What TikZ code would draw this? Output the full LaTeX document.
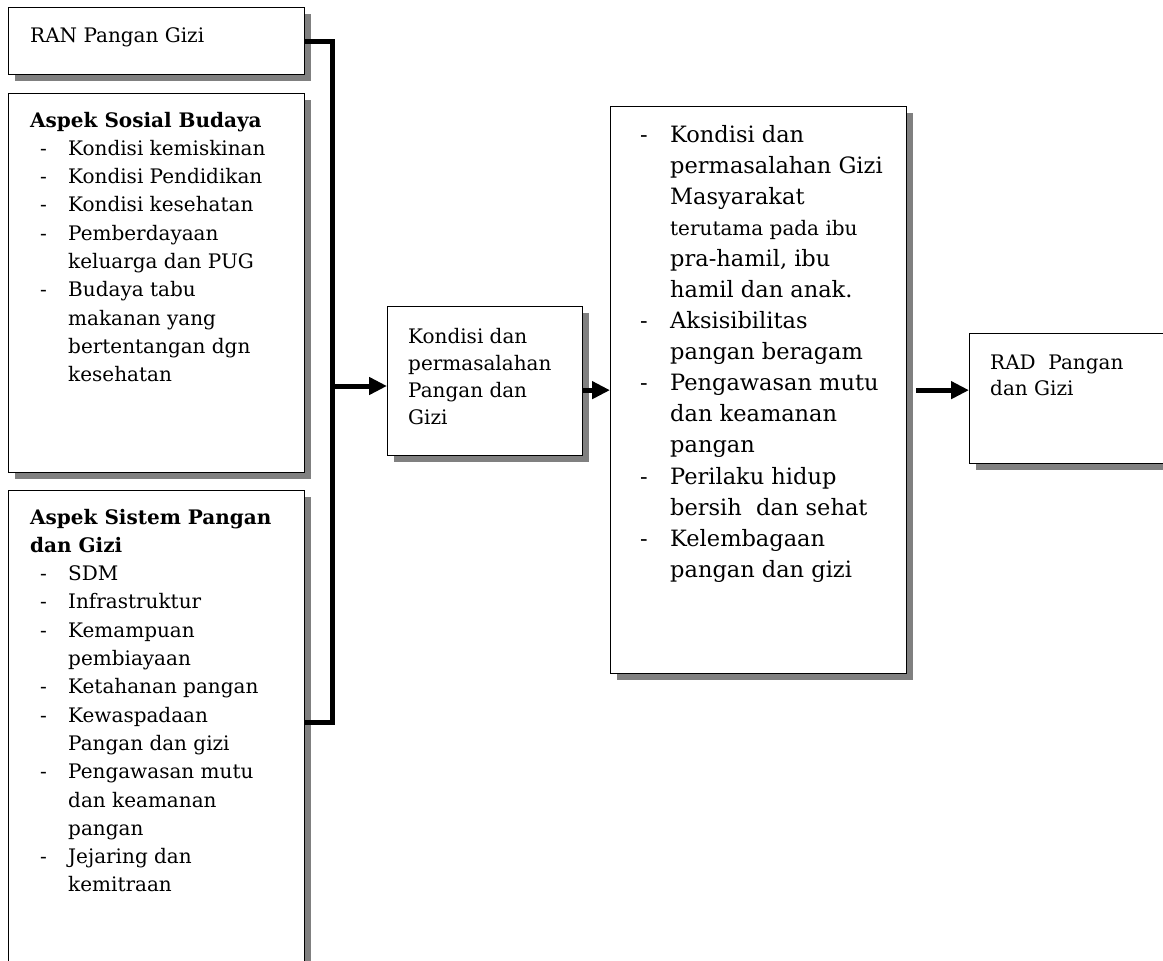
\documentclass[tikz,border=0pt]{standalone}
\usepackage{fontspec}
\setmainfont{DejaVu Serif}
\usetikzlibrary{arrows.meta,shadows,calc}
\newcommand{\dsh}[1][38pt]{\makebox[#1][l]{\hspace{10pt}-}}
\newcommand{\dshb}{\makebox[30pt][l]{-}}
\begin{document}
\begin{tikzpicture}[x=1pt,y=-1pt,
  box/.style={draw=black,line width=1.3pt,fill=white,rectangle,inner sep=0pt,anchor=north west,
    drop shadow={shadow xshift=6pt,shadow yshift=-6pt,fill=black!50,opacity=1}},
  txt/.style={inner sep=0pt,anchor=base west,align=left},
  conn/.style={line width=5pt,line join=miter},
  arr/.style={line width=5pt,-{Triangle[length=18pt,width=17pt]}},
]
\useasboundingbox (0,0) rectangle (1163,961);
\fill[white] (0,0) rectangle (1163,961);

% boxes
\node[box,minimum width=296pt,minimum height=67pt] (ran) at (8,7) {};
\node[box,minimum width=296pt,minimum height=379pt] (sos) at (8,93) {};
\node[box,minimum width=296pt,minimum height=500pt] (sis) at (8,490) {};
\node[box,minimum width=195pt,minimum height=149pt] (kond) at (387,306) {};
\node[box,minimum width=296pt,minimum height=567pt] (big) at (610,106) {};
\node[box,minimum width=230pt,minimum height=130pt] (rad) at (969,333) {};

% texts
\node[txt] (rantxt) at (30,42) {\fontsize{20}{26}\selectfont RAN Pangan Gizi};

\node[txt] (sostxt) at (30,127) {\fontsize{20}{28.3}\selectfont
\begin{tabular}[t]{@{}l@{}l@{}}
\multicolumn{2}{@{}l@{}}{\bfseries Aspek Sosial Budaya}\\
\dsh & Kondisi kemiskinan\\
\dsh & Kondisi Pendidikan\\
\dsh & Kondisi kesehatan\\
\dsh & Pemberdayaan\\
 & keluarga dan PUG\\
\dsh & Budaya tabu\\
 & makanan yang\\
 & bertentangan dgn\\
 & kesehatan
\end{tabular}};

\node[txt] (sistxt) at (30,524) {\fontsize{20}{28.3}\selectfont
\begin{tabular}[t]{@{}l@{}l@{}}
\multicolumn{2}{@{}l@{}}{\bfseries Aspek Sistem Pangan}\\
\multicolumn{2}{@{}l@{}}{\bfseries dan Gizi}\\
\dsh & SDM\\
\dsh & Infrastruktur\\
\dsh & Kemampuan\\
 & pembiayaan\\
\dsh & Ketahanan pangan\\
\dsh & Kewaspadaan\\
 & Pangan dan gizi\\
\dsh & Pengawasan mutu\\
 & dan keamanan\\
 & pangan\\
\dsh & Jejaring dan\\
 & kemitraan
\end{tabular}};

\node[txt] (kondtxt) at (408,343) {\fontsize{20}{27}\selectfont
\begin{tabular}[t]{@{}l@{}}
Kondisi dan\\
permasalahan\\
Pangan dan\\
Gizi
\end{tabular}};

\node[txt] (bigtxt) at (640,142) {\fontsize{22.5}{31.1}\selectfont
\begin{tabular}[t]{@{}l@{}l@{}}
\dshb & Kondisi dan\\
 & permasalahan Gizi\\
 & Masyarakat\\
 & {\fontsize{20}{31.1}\selectfont terutama pada ibu}\\
 & pra-hamil, ibu\\
 & hamil dan anak.\\
\dshb & Aksisibilitas\\
 & pangan beragam\\
\dshb & Pengawasan mutu\\
 & dan keamanan\\
 & pangan\\
\dshb & Perilaku hidup\\
 & bersih\ \ dan sehat\\
\dshb & Kelembagaan\\
 & pangan dan gizi
\end{tabular}};

\node[txt] (radtxt) at (990,369) {\fontsize{20}{26}\selectfont
\begin{tabular}[t]{@{}l@{}}
RAD\ \ Pangan\\
dan Gizi
\end{tabular}};

% connectors
\coordinate (brbot) at (332,722);
\coordinate (j) at (332,386);
\draw[conn] (ran.east) -| (brbot) -- (brbot -| sis.east);
\draw[arr] (j) -- (j -| kond.west);
\draw[arr] (big.west -| kond.east) -- (big.west);
\draw[arr] ([xshift=9pt]big.east) -- (big.east -| rad.west);
\end{tikzpicture}
\end{document}
